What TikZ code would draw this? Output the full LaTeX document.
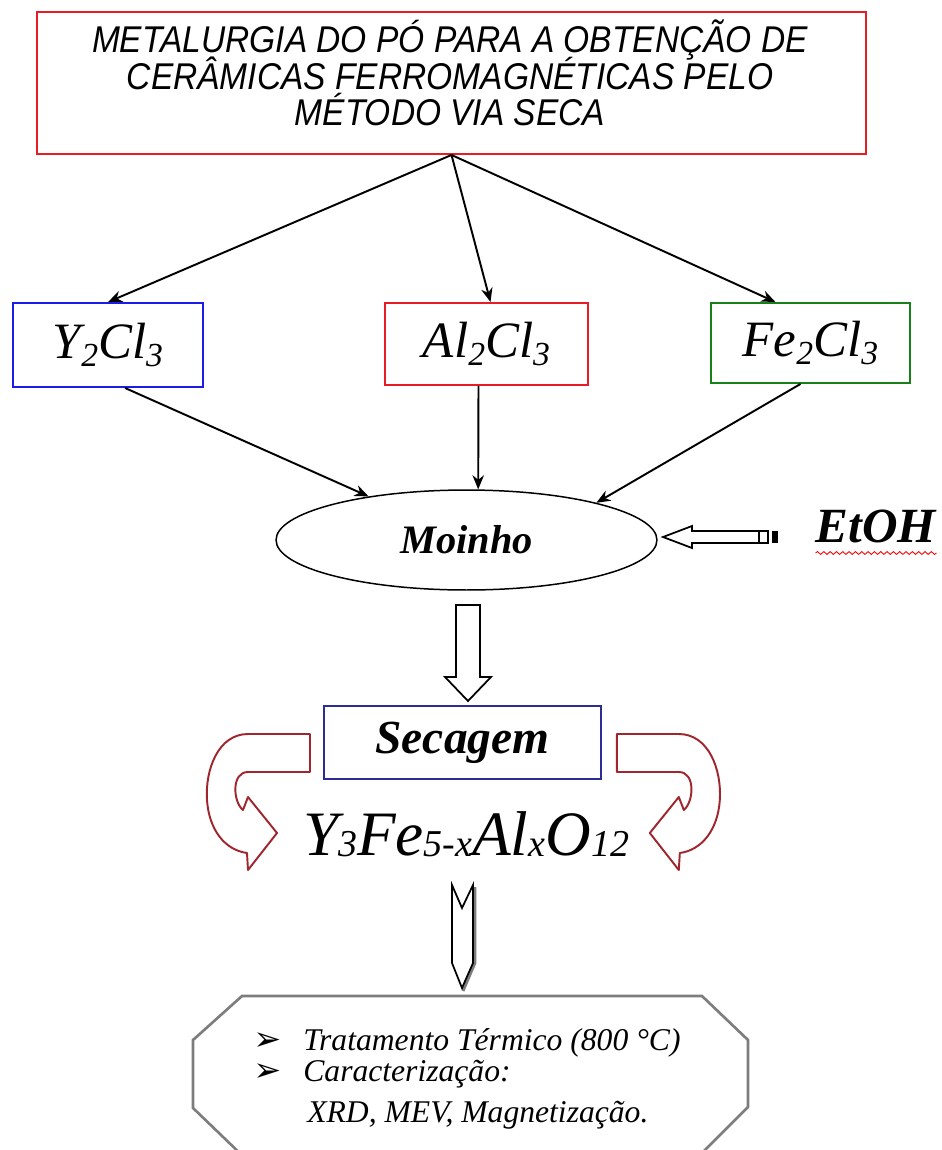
\documentclass[tikz,border=0pt]{standalone}
\usepackage{fontspec}
\setmainfont{Liberation Serif}
\newfontfamily\sansit[FakeStretch=0.9]{Liberation Sans}
\newfontfamily\dejavu{DejaVu Sans}
\usetikzlibrary{arrows.meta, shapes.geometric, calc, decorations.pathmorphing}

\definecolor{vermelho}{RGB}{232,28,36}
\definecolor{azul}{RGB}{28,28,232}
\definecolor{verde}{RGB}{24,128,24}
\definecolor{azulesc}{RGB}{44,44,150}
\definecolor{vinho}{RGB}{158,38,44}
\definecolor{cinza}{RGB}{125,125,125}

\newcommand{\ind}[1]{\raisebox{-4.5pt}{\scalebox{0.66}{#1}}}
\newcommand{\indf}[1]{\raisebox{-1pt}{\scalebox{0.6}{#1}}}
\newcommand{\bala}{{\dejavu\fontsize{19}{19}\selectfont ➢}}

\begin{document}
\lineskiplimit=-100pt
\begin{tikzpicture}[x=0.02cm, y=-0.02cm,
    caixa/.style = {draw, line width=1.1pt, inner sep=0pt, font=\fontsize{29}{29}\selectfont\itshape},
    rotulo/.style = {inner sep=0pt, font=\fontsize{24}{24}\selectfont\bfseries\itshape},
    passo/.style = {anchor=base west, inner sep=0pt, font=\fontsize{18}{18}\selectfont\itshape},
    seta/.style = {-{Stealth[length=8pt, width=6.5pt]}, line width=1.1pt},
    bloco/.style = {draw, line width=1pt, fill=white, line join=miter},
    curva/.style = {draw=vinho, line width=1.1pt, fill=white, line join=round}]

\useasboundingbox (0,0) rectangle (941,1150);

% caixas
\node[caixa, draw=vermelho, minimum width=16.58cm, minimum height=2.84cm] (titulo) at (451.5,83) {};
\node[align=center, inner sep=0pt, font=\fontsize{21.2}{20.6}\selectfont\sansit\itshape] (titulotexto) at (450,73)
  {METALURGIA DO PÓ PARA A OBTENÇÃO DE\\CERÂMICAS FERROMAGNÉTICAS PELO\\MÉTODO VIA SECA};
\node[caixa, draw=azul, minimum width=3.8cm, minimum height=1.68cm] (y2) at (108,345) {Y\ind{2}Cl\ind{3}};
\node[caixa, draw=vermelho, minimum width=4.06cm, minimum height=1.64cm] (al) at (486.5,344) {Al\ind{2}Cl\ind{3}};
\node[caixa, draw=verde, minimum width=3.98cm, minimum height=1.6cm] (fe) at (810.5,343) {Fe\ind{2}Cl\ind{3}};
\node[draw, ellipse, line width=0.85pt, minimum width=7.62cm, minimum height=2cm, inner sep=0pt,
  font=\fontsize{23}{23}\selectfont\bfseries\itshape] (moinho) at (466.5,540) {Moinho};
\node[rotulo, anchor=base, font=\fontsize{28}{28}\selectfont\bfseries\itshape] (etoh) at (876,542) {EtOH};
\node[caixa, draw=azulesc, minimum width=5.54cm, minimum height=1.46cm, font=\fontsize{27}{27}\selectfont\bfseries\itshape] (secagem) at (462.5,742.5) {Secagem};
\node[anchor=base, inner sep=0pt, font=\fontsize{36}{36}\selectfont\itshape] (formula) at (466,855)
  {Y\indf{3}Fe\indf{5-x}Al\indf{x}O\indf{12}};

% setas
\draw[seta] (titulo.south) -- (y2.north);
\draw[seta] (titulo.south) -- ($(al.north)+(4,0)$);
\draw[seta] (titulo.south) -- ($(fe.north)+(-35,0)$);
\draw[seta] ($(y2.south)+(17,0)$) -- (moinho.156);
\draw[seta] ($(al.south)+(-8,0)$) -- (moinho.77);
\draw[seta] ($(fe.south)+(-10,0)$) -- (moinho.16);

% EtOH
\draw[red, line width=0.5pt, decorate, decoration={snake, amplitude=0.8pt, segment length=3.6pt}]
  ($(etoh.base west)+(0,11)$) -- ($(etoh.base east)+(0,11)$);
\draw[bloco] (663,537) -- (692,526) -- (692,531) -- (759,531) -- (759,543) -- (692,543) -- (692,548) -- cycle;
\draw[bloco] (759,531) rectangle (768,543);
\fill (772,531) rectangle (778,543);

% moinho -> secagem
\draw[bloco] (456,605) -- (480,605) -- (480,677) -- (491,677) -- (468,701) -- (445,677) -- (456,677) -- cycle;

% setas curvas
\draw[curva] (310,734) -- (248,734)
  .. controls (218,734) and (205,770) .. (207,800)
  .. controls (209,830) and (225,850) .. (247,853)
  -- (248,870) -- (277,833) -- (248,797) -- (243,810)
  .. controls (233,802) and (231,772) .. (248,772)
  -- (310,772) -- cycle;
\begin{scope}[xshift=18.54cm, xscale=-1]
\draw[curva] (310,734) -- (248,734)
  .. controls (218,734) and (205,770) .. (207,800)
  .. controls (209,830) and (225,850) .. (247,853)
  -- (248,870) -- (277,833) -- (248,797) -- (243,810)
  .. controls (233,802) and (231,772) .. (248,772)
  -- (310,772) -- cycle;
\end{scope}

% seta para as etapas
\draw[cinza, line width=1.6pt] (475,887) -- (475,963) -- (463,991);
\draw[bloco] (452,885) -- (462,908) -- (473,885) -- (473,963) -- (462,988) -- (452,963) -- cycle;

% etapas
\draw[cinza, line width=1.5pt] (247,1160) -- (193,1108) -- (193,1040) -- (242,996) -- (702,996)
  -- (748,1040) -- (748,1107) -- (695,1160);
\node[passo] (passo1) at (253,1050) {\makebox[1cm][l]{\bala}Tratamento Térmico (800 °C)};
\node[passo] (passo2) at (253,1081) {\makebox[1cm][l]{\bala}Caracterização:};
\node[passo] (passo3) at (307,1122) {XRD, MEV, Magnetização.};
\end{tikzpicture}
\end{document}
